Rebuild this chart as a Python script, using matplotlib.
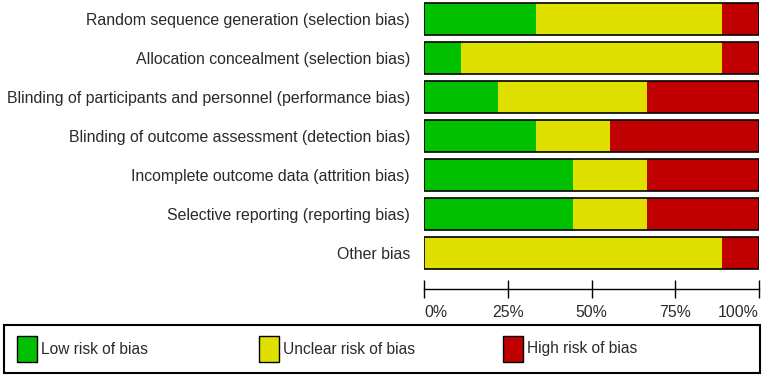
import matplotlib
matplotlib.use('Agg')
import matplotlib.pyplot as plt
from matplotlib.patches import Rectangle

# Risk of bias summary (9 studies), percentages per domain
domains = ['Random sequence generation (selection bias)',
           'Allocation concealment (selection bias)',
           'Blinding of participants and personnel (performance bias)',
           'Blinding of outcome assessment (detection bias)',
           'Incomplete outcome data (attrition bias)',
           'Selective reporting (reporting bias)',
           'Other bias']
low = [33.3, 11.1, 22.2, 33.3, 44.4, 44.4, 0.0]
unclear = [55.6, 77.8, 44.4, 22.2, 22.2, 22.2, 88.9]
high = [11.1, 11.1, 33.3, 44.4, 33.3, 33.3, 11.1]
tick_vals = [0, 25, 50, 75, 100]
tick_labels = ['0%', '25%', '50%', '75%', '100%']
legend_labels = ['Low risk of bias', 'Unclear risk of bias', 'High risk of bias']

green, yellow, red = '#00C000', '#E0E000', '#C00000'
plt.rcParams['font.family'] = ['Liberation Sans', 'DejaVu Sans']

W, H = 765, 379
fig = plt.figure(figsize=(W / 100, H / 100), dpi=100)
ax = fig.add_axes([424 / W, 1 - 289 / H, 335 / W, 289 / H])

y = list(range(len(domains)))
left2 = [a + b for a, b in zip(low, unclear)]
ax.barh(y, low, height=0.8, color=green, edgecolor='none')
ax.barh(y, unclear, left=low, height=0.8, color=yellow, edgecolor='none')
ax.barh(y, high, left=left2, height=0.8, color=red, edgecolor='none')
ax.barh(y, [l + u + h for l, u, h in zip(low, unclear, high)], height=0.8,
        fill=False, edgecolor='black', linewidth=1.2)

ax.set_xlim(0, 100)
ax.set_ylim(6.923, -0.487)
for s in ['top', 'right', 'left']:
    ax.spines[s].set_visible(False)
ax.spines['bottom'].set_linewidth(1.0)
ax.set_yticks(y)
ax.set_yticklabels(domains, fontsize=11.4, color='#2a2a2a')
ax.tick_params(axis='y', length=0, pad=10)
ax.set_xticks(tick_vals)
ax.set_xticklabels(tick_labels, fontsize=11.4, color='#2a2a2a')
ax.tick_params(axis='x', direction='inout', length=13, width=1.0, pad=5)
xl = ax.get_xticklabels()
xl[0].set_ha('left')
xl[-1].set_ha('right')

# legend box
fig.add_artist(Rectangle((4 / W, 1 - 373 / H), 756 / W, 48 / H, transform=fig.transFigure,
                         fill=False, edgecolor='black', linewidth=1.5))
for x0, c, lab in zip([17, 259, 503], [green, yellow, red], legend_labels):
    fig.add_artist(Rectangle((x0 / W, 1 - 362 / H), 20 / W, 26 / H, transform=fig.transFigure,
                             facecolor=c, edgecolor='black', linewidth=1.0))
    fig.text((x0 + 24) / W, 1 - 349 / H, lab, fontsize=11.2, color='#2a2a2a', va='center')

plt.savefig('out.png', dpi=100)
